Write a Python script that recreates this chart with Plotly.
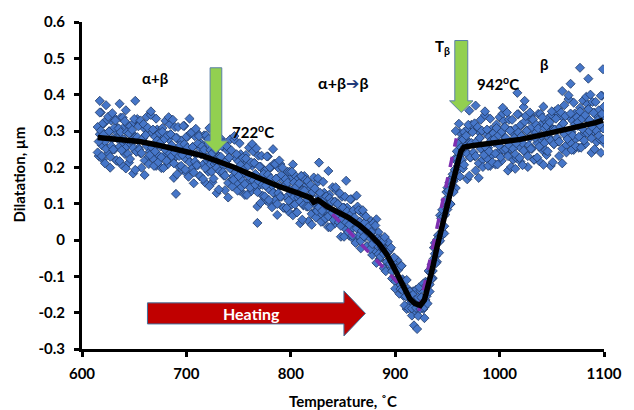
import plotly.graph_objects as go

# ---------------- data ----------------
# sample temperatures (deg C) of the dilatometer readings
temps = [
 615,616,617,618,619,620,621,622,623,624,
 625,626,627,628,629,630,631,632,633,634,
 635,636,637,638,639,640,641,642,643,644,
 645,646,647,648,649,650,651,652,653,654,
 655,656,657,658,659,660,661,662,663,664,
 665,666,667,668,669,670,671,672,673,674,
 675,676,677,678,679,680,681,682,683,684,
 685,686,687,688,689,690,691,692,693,694,
 695,696,697,698,699,700,701,702,703,704,
 705,706,707,708,709,710,711,712,713,714,
 715,716,717,718,719,720,721,722,723,724,
 725,726,727,728,729,730,731,732,733,734,
 735,736,737,738,739,740,741,742,743,744,
 745,746,747,748,749,750,751,752,753,754,
 755,756,757,758,759,760,761,762,763,764,
 765,766,767,768,769,770,771,772,773,774,
 775,776,777,778,779,780,781,782,783,784,
 785,786,787,788,789,790,791,792,793,794,
 795,796,797,798,799,800,801,802,803,804,
 805,806,807,808,809,810,811,812,813,814,
 815,816,817,818,819,820,821,822,823,824,
 825,826,827,828,829,830,831,832,833,834,
 835,836,837,838,839,840,841,842,843,844,
 845,846,847,848,849,850,851,852,853,854,
 855,856,857,858,859,860,861,862,863,864,
 865,866,867,868,869,870,871,872,873,874,
 875,876,877,878,879,880,881,882,883,884,
 885,886,887,888,889,890,891,892,893,894,
 895,896,897,898,899,900,901,902,903,904,
 905,906,907,908,909,910,911,912,913,914,
 915,916,917,918,919,920,921,922,923,924,
 925,926,927,928,929,930,931,932,933,934,
 935,936,937,938,939,940,941,942,943,944,
 945,946,947,948,949,950,951,952,953,954,
 955,956,957,958,959,960,961,962,963,964,
 965,966,967,968,969,970,971,972,973,974,
 975,976,977,978,979,980,981,982,983,984,
 985,986,987,988,989,990,991,992,993,994,
 995,996,997,998,999,1000,1001,1002,1003,1004,
 1005,1006,1007,1008,1009,1010,1011,1012,1013,1014,
 1015,1016,1017,1018,1019,1020,1021,1022,1023,1024,
 1025,1026,1027,1028,1029,1030,1031,1032,1033,1034,
 1035,1036,1037,1038,1039,1040,1041,1042,1043,1044,
 1045,1046,1047,1048,1049,1050,1051,1052,1053,1054,
 1055,1056,1057,1058,1059,1060,1061,1062,1063,1064,
 1065,1066,1067,1068,1069,1070,1071,1072,1073,1074,
 1075,1076,1077,1078,1079,1080,1081,1082,1083,1084,
 1085,1086,1087,1088,1089,1090,1091,1092,1093,1094,
 1095,1096,1097,1098,1099,1100]

# dilatation readings, first set (um)
dil_a = [
 .311,.231,.291,.351,.261,.221,.321,.271,.371,.251,
 .239,.299,.199,.329,.279,.339,.249,.299,.219,.309,
 .287,.257,.337,.207,.307,.267,.237,.357,.257,.317,
 .213,.313,.263,.293,.183,.323,.283,.243,.333,.253,
 .319,.239,.199,.279,.309,.219,.289,.339,.259,.229,
 .244,.344,.294,.224,.254,.284,.204,.304,.234,.274,
 .258,.198,.308,.288,.228,.328,.238,.208,.278,.318,
 .291,.261,.221,.171,.311,.231,.281,.251,.201,.271,
 .274,.194,.254,.314,.224,.184,.284,.234,.334,.214,
 .196,.256,.156,.286,.236,.296,.206,.256,.176,.266,
 .238,.208,.288,.158,.258,.218,.188,.308,.208,.268,
 .159,.259,.209,.239,.129,.269,.229,.189,.279,.199,
 .257,.177,.137,.217,.247,.157,.227,.277,.197,.167,
 .176,.276,.226,.156,.186,.216,.136,.236,.166,.206,
 .184,.124,.234,.214,.154,.254,.164,.134,.204,.244,
 .212,.182,.142,.092,.232,.152,.202,.172,.122,.192,
 .190,.110,.170,.230,.140,.100,.200,.150,.250,.130,
 .109,.169,.069,.199,.149,.209,.119,.169,.089,.179,
 .148,.118,.188,.078,.168,.128,.098,.208,.118,.178,
 .076,.166,.116,.146,.046,.176,.136,.096,.176,.106,
 .152,.092,.052,.122,.142,.072,.132,.172,.102,.082,
 .080,.160,.120,.070,.090,.120,.050,.130,.080,.110,
 .085,.035,.125,.105,.065,.145,.065,.045,.105,.135,
 .099,.079,.049,.009,.119,.049,.089,.069,.029,.089,
 .072,.012,.062,.112,.032,.002,.082,.042,.122,.032,
 .012,.050,-.023,.075,.032,.070,.008,.035,-.017,.040,
 .028,.005,.052,-.041,.026,-.007,-.030,.057,-.016,.021,
 -.052,.004,-.030,-.014,-.078,-.002,-.026,-.060,-.005,-.060,
 -.026,-.081,-.106,-.062,-.058,-.114,-.080,-.056,-.112,-.128,
 -.125,-.071,-.108,-.154,-.150,-.135,-.190,-.134,-.178,-.152,
 -.165,-.208,-.141,-.153,-.195,-.137,-.188,-.209,-.170,-.140,
 -.158,-.166,-.190,-.215,-.115,-.155,-.115,-.125,-.142,-.090,
 -.067,-.105,-.051,-.008,-.044,-.060,.013,-.005,.068,.010,
 .023,.065,.018,.110,.092,.144,.096,.138,.099,.170,
 .171,.162,.223,.143,.224,.204,.195,.295,.235,.280,
 .197,.297,.247,.277,.167,.307,.267,.227,.317,.237,
 .311,.231,.191,.271,.301,.211,.281,.331,.251,.221,
 .244,.344,.294,.224,.254,.284,.204,.304,.234,.274,
 .268,.208,.318,.298,.238,.338,.248,.218,.288,.328,
 .311,.281,.241,.191,.331,.251,.301,.271,.221,.291,
 .306,.226,.286,.346,.256,.216,.316,.266,.366,.246,
 .241,.301,.201,.331,.281,.341,.251,.301,.221,.311,
 .297,.267,.347,.217,.317,.277,.247,.367,.267,.327,
 .234,.334,.284,.314,.204,.344,.304,.264,.354,.274,
 .351,.271,.231,.311,.341,.251,.321,.371,.291,.261,
 .288,.388,.338,.268,.298,.328,.248,.348,.278,.318,
 .314,.254,.364,.344,.284,.384,.294,.264,.334,.374,
 .360,.330,.290,.240,.380,.300,.350,.320,.270,.340,
 .357,.277,.337,.397,.307,.267]

# dilatation readings, second set (um)
dil_b = [
 .241,.271,.351,.301,.231,.321,.291,.211,.251,.331,
 .339,.299,.229,.259,.349,.249,.309,.329,.219,.279,
 .307,.217,.297,.247,.337,.277,.327,.197,.297,.237,
 .293,.223,.273,.303,.253,.333,.193,.243,.283,.313,
 .249,.329,.239,.279,.319,.179,.289,.259,.309,.209,
 .234,.354,.254,.304,.204,.244,.334,.274,.214,.294,
 .268,.228,.298,.198,.278,.248,.218,.288,.338,.238,
 .291,.231,.331,.211,.241,.281,.181,.311,.231,.261,
 .204,.234,.314,.264,.194,.284,.254,.174,.214,.294,
 .296,.256,.186,.216,.306,.206,.266,.286,.176,.236,
 .258,.168,.248,.198,.288,.228,.278,.148,.248,.188,
 .239,.169,.219,.249,.199,.279,.139,.189,.229,.259,
 .187,.267,.177,.217,.257,.117,.227,.197,.247,.147,
 .166,.286,.186,.236,.136,.176,.266,.206,.146,.226,
 .194,.154,.224,.124,.204,.174,.144,.214,.264,.164,
 .212,.152,.252,.132,.162,.202,.102,.232,.152,.182,
 .120,.150,.230,.180,.110,.200,.170,.090,.130,.210,
 .209,.169,.099,.129,.219,.119,.179,.199,.089,.149,
 .168,.088,.158,.108,.188,.138,.188,.068,.158,.098,
 .146,.076,.126,.156,.106,.176,.056,.096,.136,.166,
 .092,.162,.092,.122,.152,.042,.132,.102,.142,.062,
 .080,.170,.090,.130,.050,.080,.160,.110,.060,.120,
 .095,.065,.115,.035,.105,.075,.055,.105,.145,.065,
 .099,.049,.129,.039,.059,.089,.009,.119,.049,.079,
 .022,.042,.112,.072,.012,.082,.062,-.008,.032,.092,
 .082,.050,-.003,.025,.082,.010,.048,.065,-.017,.020,
 .038,-.025,.022,-.011,.046,.003,.040,-.063,.004,-.039,
 -.002,-.046,-.020,-.004,-.038,.008,-.086,-.060,-.035,-.030,
 -.066,-.021,-.086,-.062,-.048,-.134,-.080,-.106,-.082,-.148,
 -.135,-.071,-.138,-.114,-.180,-.155,-.110,-.144,-.188,-.142,
 -.155,-.188,-.151,-.235,-.165,-.187,-.245,-.159,-.130,-.190,
 -.158,-.186,-.120,-.185,-.165,-.125,-.175,-.085,-.122,-.090,
 -.107,-.085,-.021,-.038,-.064,.000,.003,-.035,-.002,.060,
 .083,.065,.038,.070,.132,.084,.136,.158,.099,.150,
 .181,.132,.193,.173,.244,.214,.265,.175,.255,.220,
 .277,.207,.257,.287,.237,.317,.177,.227,.267,.297,
 .241,.321,.231,.271,.311,.171,.281,.251,.301,.201,
 .234,.354,.254,.304,.204,.244,.334,.274,.214,.294,
 .278,.238,.308,.208,.288,.258,.228,.298,.348,.248,
 .311,.251,.351,.231,.261,.301,.201,.331,.251,.281,
 .236,.266,.346,.296,.226,.316,.286,.206,.246,.326,
 .341,.301,.231,.261,.351,.251,.311,.331,.221,.281,
 .317,.227,.307,.257,.347,.287,.337,.207,.307,.247,
 .314,.244,.294,.324,.274,.354,.214,.264,.304,.334,
 .281,.361,.271,.311,.351,.211,.321,.291,.341,.241,
 .278,.398,.298,.348,.248,.288,.378,.318,.258,.338,
 .324,.284,.354,.254,.334,.304,.274,.344,.394,.294,
 .360,.300,.400,.280,.310,.350,.250,.380,.300,.330,
 .287,.317,.397,.347,.277,.367]

# isolated outlying readings
out_t = [617, 636, 651, 690, 768, 827, 836, 853, 958, 961, 971, 977, 1003,
         1015, 1017, 1024, 1060, 1068, 1077, 1085, 1097, 1099]
out_d = [0.383, 0.375, 0.383, 0.127, 0.047, 0.213, 0.19, 0.163, 0.30, 0.32,
         0.356, 0.37, 0.364, 0.196, 0.405, 0.383, 0.41, 0.43, 0.474, 0.444,
         0.24, 0.47]

# smoothed dilatation curve (black)
mean_t = [615,625,640,655,670,685,700,715,730,745,760,775,790,805,815,819,822,
          826,835,845,855,865,875,885,892,898,904,909,914,919,924,928,932,936,
          940,944,948,952,956,960,963,966,975,990,1005,1020,1035,1050,1065,
          1080,1092,1099]
mean_d = [0.282,0.280,0.276,0.271,0.263,0.254,0.243,0.232,0.218,0.201,0.182,
          0.163,0.146,0.131,0.120,0.116,0.104,0.110,0.092,0.077,0.062,0.042,
          0.018,-0.012,-0.040,-0.072,-0.108,-0.140,-0.162,-0.175,-0.180,-0.165,
          -0.125,-0.075,-0.020,0.030,0.080,0.128,0.172,0.214,0.245,0.256,0.260,
          0.265,0.270,0.277,0.286,0.295,0.305,0.315,0.323,0.330]

# tangent lines (purple dashed)
tan1_t = [826, 912]
tan1_d = [0.113, -0.146]
tan2_t = [922.7, 958.6]
tan2_d = [-0.195, 0.280]

# ticks
x_ticks = [600, 700, 800, 900, 1000, 1100]
x_ticktext = ["600", "700", "800", "900", "1000", "1100"]
y_ticks = [-0.3, -0.2, -0.1, 0, 0.1, 0.2, 0.3, 0.4, 0.5, 0.6]
y_ticktext = ["-0.3", "-0.2", "-0.1", "0", "0.1", "0.2", "0.3", "0.4", "0.5", "0.6"]

assert len(temps) == len(dil_a) == len(dil_b)
assert len(out_t) == len(out_d) and len(mean_t) == len(mean_d)

# ---------------- figure ----------------
FONT = "Lato"
fig = go.Figure()

fig.add_trace(go.Scatter(
    x=temps + temps + out_t, y=dil_a + dil_b + out_d,
    mode="markers",
    marker=dict(symbol="diamond", size=7, color="#4676C8",
                line=dict(color="#203864", width=0.8)),
    showlegend=False, hoverinfo="skip"))

for tt, dd in ((tan1_t, tan1_d), (tan2_t, tan2_d)):
    fig.add_trace(go.Scatter(
        x=tt, y=dd, mode="lines",
        line=dict(color="#7E2FB0", width=3.5, dash="dash"),
        showlegend=False, hoverinfo="skip"))

fig.add_trace(go.Scatter(
    x=mean_t, y=mean_d, mode="lines",
    line=dict(color="black", width=5.5),
    showlegend=False, hoverinfo="skip"))


def down_arrow(xc, top, neck, tip, hs, hh):
    return (f"M {xc-hs},{top} L {xc+hs},{top} L {xc+hs},{neck} L {xc+hh},{neck} "
            f"L {xc},{tip} L {xc-hh},{neck} L {xc-hs},{neck} Z")


def right_arrow(x0, xn, xt, yc, hb, hh):
    return (f"M {x0},{yc+hb} L {xn},{yc+hb} L {xn},{yc+hh} L {xt},{yc} "
            f"L {xn},{yc-hh} L {xn},{yc-hb} L {x0},{yc-hb} Z")


shapes = [
    dict(type="path", xref="x", yref="y", layer="above",
         path=down_arrow(728.3, 0.474, 0.273, 0.240, 5.6, 11.5),
         fillcolor="#92D050", line=dict(color="#5B7FA8", width=1)),
    dict(type="path", xref="x", yref="y", layer="above",
         path=down_arrow(963.3, 0.549, 0.383, 0.351, 6.2, 11.2),
         fillcolor="#92D050", line=dict(color="#5B7FA8", width=1)),
    dict(type="path", xref="x", yref="y", layer="above",
         path=right_arrow(662.7, 850.9, 871.5, -0.202, 0.029, 0.062),
         fillcolor="#C00000", line=dict(color="#41719C", width=1)),
]

bold = dict(family=FONT, size=15, color="black", weight="bold")
ann = [
    dict(x=670, y=0.445, text="α+β"),
    dict(x=763.5, y=0.298, text="722<sup>o</sup>C"),
    dict(x=850, y=0.432,
         text="α+β<span style='color:#1F3A7A;font-family:DejaVu Sans'>➔</span>β",
         font=dict(family=FONT, size=16, color="black", weight="bold")),
    dict(x=945, y=0.530, text="T<sub>β</sub>"),
    dict(x=998, y=0.430, text="942<sup>o</sup>C"),
    dict(x=1043, y=0.484, text="β"),
]
annotations = []
for a in ann:
    a.setdefault("font", bold)
    annotations.append(dict(xref="x", yref="y", showarrow=False,
                            xanchor="center", yanchor="middle", **a))
annotations.append(dict(xref="x", yref="y", x=762, y=-0.203, text="Heating",
                        showarrow=False,
                        font=dict(family=FONT, size=16, color="white", weight="bold")))
# axis titles
annotations.append(dict(xref="paper", yref="paper", x=0.5, y=0, yanchor="top",
                        xanchor="center", yshift=-41, showarrow=False,
                        text="Temperature, ˚C", font=bold))
annotations.append(dict(xref="paper", yref="paper", x=0, y=0.5, xanchor="center",
                        yanchor="middle", xshift=-64, yshift=11, textangle=-90,
                        showarrow=False, text="Dilatation, µm", font=bold))

axis_common = dict(showgrid=False, zeroline=False, showline=True, linecolor="black",
                   linewidth=3, ticks="outside", ticklen=5, tickwidth=3,
                   tickcolor="black", mirror=False,
                   tickfont=dict(family=FONT, size=15, color="black", weight="bold"))

fig.update_layout(
    width=634, height=410,
    margin=dict(l=82, r=18, t=21, b=61),
    paper_bgcolor="white", plot_bgcolor="white",
    xaxis=dict(range=[600, 1100], tickvals=x_ticks, ticktext=x_ticktext,
               ticklabelstandoff=4, **axis_common),
    yaxis=dict(range=[-0.3, 0.6], tickvals=y_ticks, ticktext=y_ticktext,
               ticklabelstandoff=6, **axis_common),
    shapes=shapes, annotations=annotations, showlegend=False,
)

fig.write_html("out.html")
